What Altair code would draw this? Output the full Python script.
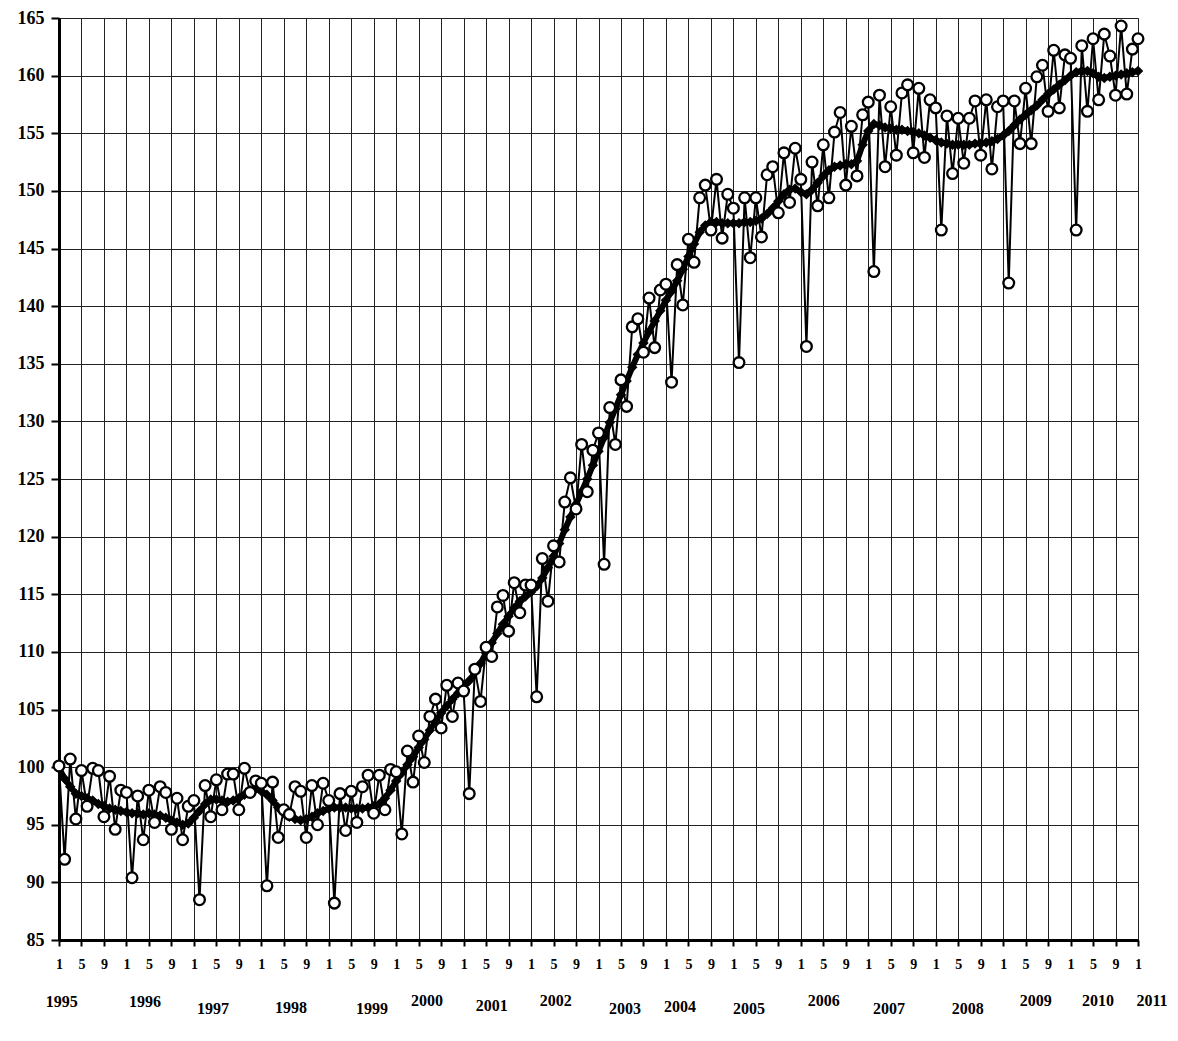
import altair as alt
import pandas as pd

# Monthly index values, Jan 1995 .. Jan 2011 (193 months)
raw = [
    100.1, 92.0, 100.7, 95.5, 99.7, 96.6, 99.9, 99.7, 95.7, 99.2, 94.6, 98.0,   # 1995
    97.8, 90.4, 97.5, 93.7, 98.0, 95.2, 98.3, 97.8, 94.6, 97.3, 93.7, 96.6,     # 1996
    97.1, 88.5, 98.4, 95.7, 98.9, 96.3, 99.4, 99.4, 96.3, 99.9, 97.8, 98.8,     # 1997
    98.6, 89.7, 98.7, 93.9, 96.3, 95.9, 98.3, 97.9, 93.9, 98.4, 95.0, 98.6,     # 1998
    97.1, 88.2, 97.7, 94.5, 97.9, 95.2, 98.3, 99.3, 96.0, 99.3, 96.3, 99.8,     # 1999
    99.6, 94.2, 101.4, 98.7, 102.7, 100.4, 104.4, 105.9, 103.4, 107.1, 104.4, 107.3,  # 2000
    106.6, 97.7, 108.5, 105.7, 110.4, 109.6, 113.9, 114.9, 111.8, 116.0, 113.4, 115.8,  # 2001
    115.8, 106.1, 118.1, 114.4, 119.2, 117.8, 123.0, 125.1, 122.4, 128.0, 123.9, 127.5,  # 2002
    129.0, 117.6, 131.2, 128.0, 133.6, 131.3, 138.2, 138.9, 136.0, 140.7, 136.4, 141.4,  # 2003
    141.9, 133.4, 143.6, 140.1, 145.8, 143.8, 149.4, 150.5, 146.6, 151.0, 145.9, 149.7,  # 2004
    148.5, 135.1, 149.4, 144.2, 149.4, 146.0, 151.4, 152.1, 148.1, 153.3, 149.0, 153.7,  # 2005
    151.0, 136.5, 152.5, 148.7, 154.0, 149.4, 155.1, 156.8, 150.5, 155.6, 151.3, 156.6,  # 2006
    157.7, 143.0, 158.3, 152.1, 157.3, 153.1, 158.5, 159.2, 153.3, 158.9, 152.9, 157.9,  # 2007
    157.2, 146.6, 156.5, 151.5, 156.3, 152.4, 156.3, 157.8, 153.1, 157.9, 151.9, 157.3,  # 2008
    157.8, 142.0, 157.8, 154.1, 158.9, 154.1, 159.9, 160.9, 156.9, 162.2, 157.2, 161.8,  # 2009
    161.5, 146.6, 162.6, 156.9, 163.2, 157.9, 163.6, 161.7, 158.3, 164.3, 158.4, 162.3,  # 2010
    163.2,                                                                              # 2011
]

trend = [
    99.9, 99.0, 98.3, 97.7, 97.5, 97.3, 97.1, 96.8, 96.6, 96.4, 96.3, 96.2,
    96.1, 96.0, 96.0, 95.9, 96.0, 95.9, 95.8, 95.6, 95.4, 95.2, 95.0, 95.1,
    95.6, 96.2, 96.8, 97.2, 97.2, 97.1, 97.0, 97.1, 97.3, 97.6, 98.0, 98.1,
    97.9, 97.6, 97.1, 96.5, 96.0, 95.7, 95.5, 95.4, 95.5, 95.7, 96.0, 96.2,
    96.4, 96.5, 96.5, 96.5, 96.4, 96.4, 96.4, 96.5, 96.6, 96.8, 97.3, 98.0,
    98.8, 99.5, 100.2, 100.9, 101.7, 102.4, 103.2, 104.0, 104.7, 105.3, 105.9, 106.4,
    106.9, 107.5, 108.2, 109.0, 109.9, 110.8, 111.6, 112.4, 113.1, 113.8, 114.4, 114.8,
    115.2, 115.7, 116.4, 117.3, 118.3, 119.4, 120.6, 121.7, 122.8, 123.9, 125.0, 126.2,
    127.4, 128.6, 129.9, 131.1, 132.3, 133.5, 134.7, 135.8, 136.8, 137.8, 138.7, 139.6,
    140.5, 141.3, 142.2, 143.2, 144.3, 145.4, 146.4, 147.0, 147.3, 147.3, 147.2, 147.2,
    147.2, 147.2, 147.3, 147.3, 147.4, 147.6, 148.0, 148.5, 149.1, 149.7, 150.1, 150.2,
    149.9, 149.7, 150.1, 150.7, 151.3, 151.8, 152.1, 152.2, 152.3, 152.3, 152.6, 154.0,
    155.2, 155.8, 155.7, 155.5, 155.4, 155.3, 155.3, 155.2, 155.1, 155.0, 154.8, 154.6,
    154.4, 154.2, 154.1, 154.0, 154.0, 154.0, 154.0, 154.1, 154.1, 154.2, 154.3, 154.5,
    154.8, 155.2, 155.7, 156.2, 156.6, 157.0, 157.4, 157.9, 158.4, 158.8, 159.2, 159.6,
    160.0, 160.3, 160.4, 160.4, 160.2, 159.9, 159.8, 159.9, 160.0, 160.1, 160.2, 160.3,
    160.4,
]

year_labels = ["1995", "1996", "1997", "1998", "1999", "2000", "2001", "2002", "2003",
               "2004", "2005", "2006", "2007", "2008", "2009", "2010", "2011"]
year_pos = [0.5, 15.3, 27.4, 41.3, 55.7, 65.5, 77.0, 88.4, 100.7,
            110.5, 122.8, 136.1, 147.7, 161.7, 173.8, 184.9, 194.5]
year_y = [79.6, 79.6, 79.0, 79.1, 79.0, 79.7, 79.3, 79.7, 79.0,
          79.2, 79.0, 79.7, 79.0, 79.0, 79.7, 79.7, 79.7]

n = len(raw)
df = pd.DataFrame({"m": list(range(n)), "raw": raw, "trend": trend})
ydf = pd.DataFrame({"m": year_pos, "y": year_y, "label": year_labels})

FONT = "Liberation Serif"

xscale = alt.Scale(domain=[0, 192], nice=False, zero=False)
yscale = alt.Scale(domain=[85, 165], nice=False, zero=False)

xaxis = alt.Axis(
    values=list(range(0, 193, 4)),
    tickCount=100,
    labelExpr="(datum.value % 12) + 1",
    title=None,
    grid=True, gridColor="#222", gridWidth=1,
    domainColor="black", domainWidth=3,
    tickColor="black", tickWidth=2, tickSize=6,
    labelFont=FONT, labelFontWeight="bold", labelFontSize=14,
    labelColor="black", labelPadding=11, labelFlush=False,
    labelOverlap=False,
)
yaxis = alt.Axis(
    values=list(range(85, 166, 5)),
    tickCount=100,
    title=None,
    grid=True, gridColor="#222", gridWidth=1,
    domainColor="black", domainWidth=3,
    tickColor="black", tickWidth=2, tickSize=8,
    labelFont=FONT, labelFontWeight="bold", labelFontSize=18,
    labelColor="black", labelPadding=7, labelOverlap=False,
)

base = alt.Chart(df)

trend_line = base.mark_line(color="black", strokeWidth=6).encode(
    x=alt.X("m:Q", scale=xscale, axis=xaxis),
    y=alt.Y("trend:Q", scale=yscale, axis=yaxis),
)
trend_pts = base.mark_point(shape="diamond", filled=True, color="black", size=110, opacity=1).encode(
    x=alt.X("m:Q", scale=xscale),
    y=alt.Y("trend:Q", scale=yscale),
)
raw_line = base.mark_line(color="black", strokeWidth=2).encode(
    x=alt.X("m:Q", scale=xscale),
    y=alt.Y("raw:Q", scale=yscale),
)
raw_pts = base.mark_point(shape="circle", filled=True, fill="white", stroke="black",
                          strokeWidth=2.3, size=115, opacity=1).encode(
    x=alt.X("m:Q", scale=xscale),
    y=alt.Y("raw:Q", scale=yscale),
)
years = alt.Chart(ydf).mark_text(font=FONT, fontWeight="bold", fontSize=16,
                                 color="black", align="center", baseline="middle").encode(
    x=alt.X("m:Q", scale=xscale),
    y=alt.Y("y:Q", scale=yscale),
    text="label:N",
)

chart = alt.layer(trend_line, trend_pts, raw_line, raw_pts, years).properties(
    width=1079, height=922,
    autosize=alt.AutoSizeParams(type="none"),
    padding={"left": 51, "top": 10, "right": 32, "bottom": 90},
).configure_view(stroke=None).configure(background="white")

chart.save("out.html", embed_options={"renderer": "svg", "actions": False})
